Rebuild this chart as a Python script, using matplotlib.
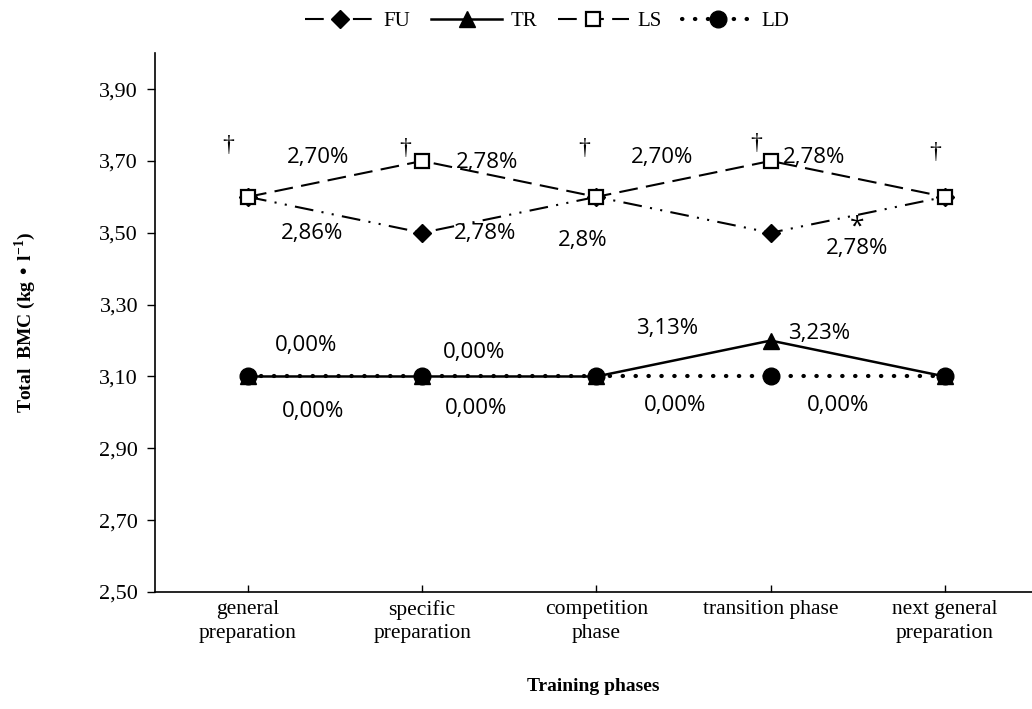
import matplotlib
matplotlib.use("Agg")
import matplotlib.pyplot as plt

phases = ["general\npreparation", "specific\npreparation", "competition\nphase",
          "transition phase", "next general\npreparation"]
fu = [3.60, 3.50, 3.60, 3.50, 3.60]
tr = [3.10, 3.10, 3.10, 3.20, 3.10]
ls = [3.60, 3.70, 3.60, 3.70, 3.60]
ld = [3.10, 3.10, 3.10, 3.10, 3.10]

# percent-change labels and their positions (data coords)
pct_labels = ["2,70%", "2,78%", "2,70%", "2,78%",
              "2,86%", "2,78%", "2,8%", "*", "2,78%",
              "0,00%", "0,00%", "3,13%", "3,23%",
              "0,00%", "0,00%", "0,00%", "0,00%"]
pct_x = [0.40, 1.375, 2.378, 3.25,
         0.367, 1.358, 1.92, 3.496, 3.496,
         0.332, 1.30, 2.407, 3.278,
         0.372, 1.307, 2.453, 3.387]
pct_y = [3.71, 3.696, 3.71, 3.71,
         3.499, 3.499, 3.479, 3.515, 3.457,
         3.187, 3.168, 3.234, 3.220,
         3.003, 3.012, 3.020, 3.020]
dag_x = [-0.115, 0.905, 1.93, 2.917, 3.943]
dag_y = [3.743, 3.735, 3.735, 3.749, 3.724]

serif = "Liberation Serif"
sans = "Open Sans"

fig = plt.figure(figsize=(10.32, 7.09), dpi=100)
ax = fig.add_axes([0.150, 0.165, 0.850, 0.760])
x = range(len(phases))

ax.plot(x, fu, color="black", lw=1.5, ls=(0, (9, 4, 1, 4, 1, 4)),
        marker="D", ms=9, label="FU", zorder=3)
ax.plot(x, tr, color="black", lw=1.8, ls="-",
        marker="^", ms=12, label="TR", zorder=3)
ax.plot(x, ls, color="black", lw=1.5, ls=(0, (9, 4)),
        marker="s", ms=10, mfc="white", mew=1.6, label="LS", zorder=4)
ax.plot(x, ld, color="black", lw=3, ls=(0, (0.1, 3.0)), dash_capstyle="round",
        marker="o", ms=12, label="LD", zorder=2)

for t, px, py in zip(pct_labels, pct_x, pct_y):
    ax.text(px, py, t, ha="center", va="center",
            fontsize=19 if t == "*" else 16, family=sans)
for px, py in zip(dag_x, dag_y):
    ax.text(px, py, "\u2020", ha="center", va="center", fontsize=17, family=serif)

ax.set_xlim(-0.535, 4.5)
ax.set_ylim(2.5, 4.0)
ax.set_yticks([2.5, 2.7, 2.9, 3.1, 3.3, 3.5, 3.7, 3.9])
ax.set_yticklabels([f"{v:.2f}".replace(".", ",") for v in ax.get_yticks()],
                   fontsize=16, family=serif)
ax.set_xticks(list(x))
ax.set_xticklabels(phases, fontsize=15.5, family=serif, linespacing=1.3)
ax.tick_params(axis="x", direction="in", length=5, pad=6, width=1)
ax.tick_params(axis="y", direction="out", length=6, pad=6, width=1)
for s in ["top", "right"]:
    ax.spines[s].set_visible(False)
for s in ["left", "bottom"]:
    ax.spines[s].set_linewidth(1.2)

ax.set_ylabel("Total  BMC (kg \u2022 l$^{\\mathregular{-1}}$)", fontsize=14,
              family=serif, fontweight="bold", labelpad=44)
ax.set_xlabel("Training phases", fontsize=14, family=serif,
              fontweight="bold", labelpad=25)

ax.legend(loc="upper center", bbox_to_anchor=(0.447, 1.112), ncol=4, frameon=False,
          handlelength=3.4, columnspacing=1.0, handletextpad=0.4,
          prop={"family": serif, "size": 15})

fig.savefig("out.png", dpi=100)
